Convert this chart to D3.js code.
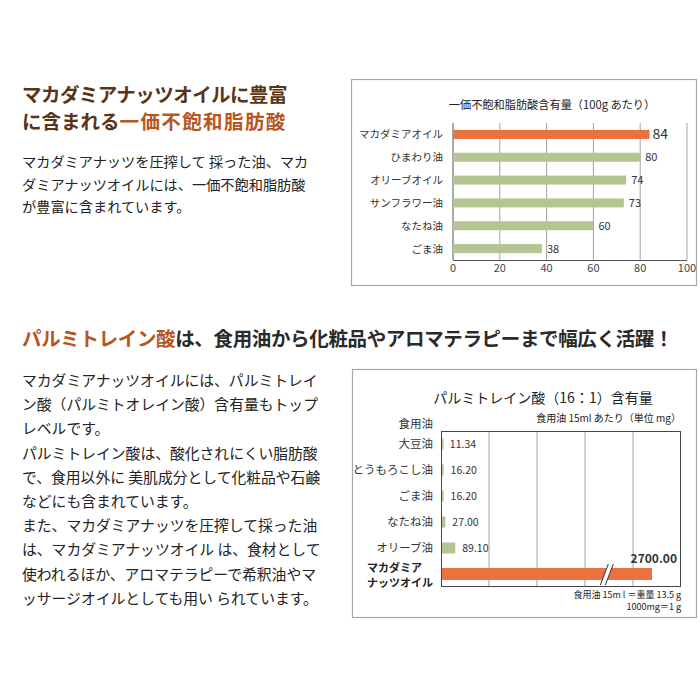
<!DOCTYPE html>
<html><head><meta charset="utf-8">
<script src="https://cdn.jsdelivr.net/npm/d3@7"></script>
<style>
html,body{margin:0;padding:0;background:#fff;}
svg{display:block;font-family:"Noto Sans CJK JP","Noto Sans",sans-serif;}
</style></head>
<body><svg id="c" width="700" height="700"></svg>
<script>
// ---- Data ----
const oils1 = ["マカダミアオイル","ひまわり油","オリーブオイル","サンフラワー油","なたね油","ごま油"];
const mufa = [84, 80, 74, 73, 60, 38];
const ticks1 = [0, 20, 40, 60, 80, 100];

const oils2 = ["大豆油","とうもろこし油","ごま油","なたね油","オリーブ油","マカダミアナッツオイル"];
const palmitoleic = [11.34, 16.20, 16.20, 27.00, 89.10, 2700.00];
const labels2 = ["11.34","16.20","16.20","27.00","89.10","2700.00"];
const grid2 = [0, 300, 600, 900, 1200, 1500];

const body1 = ["マカダミアナッツを圧搾して 採った油、マカ","ダミアナッツオイルには、一価不飽和脂肪酸","が豊富に含まれています。"];
const body2 = ["マカダミアナッツオイルには、パルミトレイ","ン酸（パルミトオレイン酸）含有量もトップ","レベルです。","パルミトレイン酸は、酸化されにくい脂肪酸","で、食用以外に 美肌成分として化粧品や石鹸","などにも含まれています。","また、マカダミアナッツを圧搾して採った油","は、マカダミアナッツオイル は、食材として","使われるほか、アロマテラピーで希釈油やマ","ッサージオイルとしても用い られています。"];

const svg = d3.select("#c");
const DARK = "#5a3417", ORANGE_T = "#b8561d", BAR_O = "#e9723f", BAR_G = "#b4c592";

// ---- Headings ----
svg.append("text").attr("x",22).attr("y",102).attr("font-size",19.5).attr("font-weight",700).attr("fill",DARK)
  .attr("letter-spacing",-0.55).text("マカダミアナッツオイルに豊富");
const h1b = svg.append("text").attr("x",22).attr("y",129).attr("font-size",19.5).attr("font-weight",700);
h1b.append("tspan").attr("fill",DARK).text("に含まれる");
h1b.append("tspan").attr("fill",ORANGE_T).attr("letter-spacing",1.4).text("一価不飽和脂肪酸");

svg.append("g").selectAll("text").data(body1).join("text")
  .attr("x",22).attr("y",(d,i)=>167+i*22.5).attr("font-size",14.2).attr("fill","#222").text(d=>d);

const h2 = svg.append("text").attr("x",22).attr("y",346).attr("font-size",19.5).attr("font-weight",700).attr("letter-spacing",-0.35);
h2.append("tspan").attr("fill",ORANGE_T).text("パルミトレイン酸");
h2.append("tspan").attr("fill","#2a2a2a").text("は、食用油から化粧品やアロマテラピーまで幅広く活躍！");

svg.append("g").selectAll("text").data(body2).join("text")
  .attr("x",22).attr("y",(d,i)=>386+i*24.2).attr("font-size",14.8).attr("fill","#222").text(d=>d);

// ---- Chart 1 ----
svg.append("rect").attr("x",351.5).attr("y",79.5).attr("width",345).attr("height",206)
  .attr("fill","none").attr("stroke","#a8a8a8").attr("stroke-width",1.2);
svg.append("text").attr("x",552).attr("y",109).attr("text-anchor","middle").attr("font-size",11.2).attr("fill","#222")
  .text("一価不飽和脂肪酸含有量（100g あたり）");

const x1 = d3.scaleLinear().domain([0,100]).range([453,687]);
const y1 = d3.scaleBand().domain(oils1).range([123,260]);
const g1 = svg.append("g");
g1.selectAll("line.grid").data(ticks1).join("line")
  .attr("x1",d=>x1(d)).attr("x2",d=>x1(d)).attr("y1",123).attr("y2",260)
  .attr("stroke",d=>d===0?"#555":"#8a8a8a").attr("stroke-width",d=>d===0?1:0.8);
g1.append("line").attr("x1",x1(0)).attr("x2",x1(100)).attr("y1",260.5).attr("y2",260.5).attr("stroke","#555");
g1.selectAll("text.tick").data(ticks1).join("text")
  .attr("x",d=>x1(d)).attr("y",272).attr("text-anchor","middle").attr("font-size",11).attr("fill","#444").text(d=>d);
g1.selectAll("rect.bar").data(mufa).join("rect")
  .attr("x",x1(0)).attr("y",(d,i)=>y1(oils1[i])+y1.bandwidth()/2-4.5)
  .attr("width",d=>x1(d)-x1(0)).attr("height",9)
  .attr("fill",(d,i)=>i===0?BAR_O:BAR_G);
g1.selectAll("text.val").data(mufa).join("text")
  .attr("x",d=>x1(d)+(d===84?3:5)).attr("y",(d,i)=>y1(oils1[i])+y1.bandwidth()/2+(i===0?5:4))
  .attr("font-size",(d,i)=>i===0?14:11).attr("fill","#333").text(d=>d);
g1.selectAll("text.cat").data(oils1).join("text")
  .attr("x",443).attr("y",d=>y1(d)+y1.bandwidth()/2+4).attr("text-anchor","end")
  .attr("font-size",10.5).attr("fill","#333").text(d=>d);

// ---- Chart 2 ----
svg.append("rect").attr("x",352.5).attr("y",369.5).attr("width",344).attr("height",248)
  .attr("fill","none").attr("stroke","#a8a8a8").attr("stroke-width",1.2);
svg.append("text").attr("x",543).attr("y",403).attr("text-anchor","middle").attr("font-size",14).attr("fill","#222")
  .text("パルミトレイン酸（16：1）含有量");
svg.append("text").attr("x",681).attr("y",422).attr("text-anchor","end").attr("font-size",10).attr("fill","#222")
  .text("食用油 15ml あたり（単位 mg）");
svg.append("text").attr("x",433).attr("y",428).attr("text-anchor","end").attr("font-size",11.5).attr("fill","#333").text("食用油");

const gx2 = d3.scaleLinear().domain([0,1500]).range([441,681]);
// broken axis: values beyond 900 are compressed
const x2 = d3.scaleLinear().domain([0,900,2700]).range([441,gx2(900),652]);
const y2 = d3.scaleBand().domain(oils2).range([431,587]);
const g2 = svg.append("g");
g2.selectAll("line.grid").data(grid2.slice(1,-1)).join("line")
  .attr("x1",d=>gx2(d)).attr("x2",d=>gx2(d)).attr("y1",431).attr("y2",587)
  .attr("stroke","#8a8a8a").attr("stroke-width",0.8);
g2.append("rect").attr("x",gx2(0)+0.5).attr("y",431.5).attr("width",gx2(1500)-gx2(0)-1).attr("height",155)
  .attr("fill","none").attr("stroke","#444").attr("stroke-width",1);
g2.selectAll("rect.bar").data(palmitoleic).join("rect")
  .attr("x",x2(0)+1).attr("y",(d,i)=>y2(oils2[i])+y2.bandwidth()/2-(i===5?6:5.5))
  .attr("width",d=>Math.max(1.5,x2(d)-x2(0)-1)).attr("height",(d,i)=>i===5?12:11)
  .attr("fill",(d,i)=>i===5?BAR_O:BAR_G);
// break marks
const by = y2(oils2[5])+y2.bandwidth()/2;
const bx = x2(1500);
g2.append("path").attr("d",`M${bx-7},${by+11} L${bx+1},${by-10} L${bx+6},${by-10} L${bx-2},${by+11} Z`).attr("fill","#fff");
g2.append("path").attr("d",`M${bx-7},${by+11} L${bx+1},${by-10} M${bx-2},${by+11} L${bx+6},${by-10}`)
  .attr("stroke","#333").attr("stroke-width",1).attr("fill","none");
g2.selectAll("text.val").data(palmitoleic.slice(0,5)).join("text")
  .attr("x",d=>x2(d)+7).attr("y",(d,i)=>y2(oils2[i])+y2.bandwidth()/2+3.5)
  .attr("font-size",10.5).attr("fill","#333").text((d,i)=>labels2[i]);
g2.append("text").attr("x",677).attr("y",563).attr("text-anchor","end").attr("font-size",12).attr("font-weight",700)
  .attr("fill","#333").text(labels2[5]);
g2.selectAll("text.cat").data(oils2.slice(0,5)).join("text")
  .attr("x",433).attr("y",d=>y2(d)+y2.bandwidth()/2+4).attr("text-anchor","end")
  .attr("font-size",11.5).attr("fill","#333").text(d=>d);
const macLines = ["マカダミア","ナッツオイル"];
g2.selectAll("text.mac").data(macLines).join("text")
  .attr("x",367).attr("y",(d,i)=>by-2+i*14.5)
  .attr("font-size",11).attr("font-weight",700).attr("fill","#222").text(d=>d);

svg.append("text").attr("x",681).attr("y",598).attr("text-anchor","end").attr("font-size",9).attr("fill","#222")
  .text("食用油 15m l ＝重量 13.5 g");
svg.append("text").attr("x",681).attr("y",610).attr("text-anchor","end").attr("font-size",9).attr("fill","#222")
  .text("1000mg＝1 g");
</script></body></html>
